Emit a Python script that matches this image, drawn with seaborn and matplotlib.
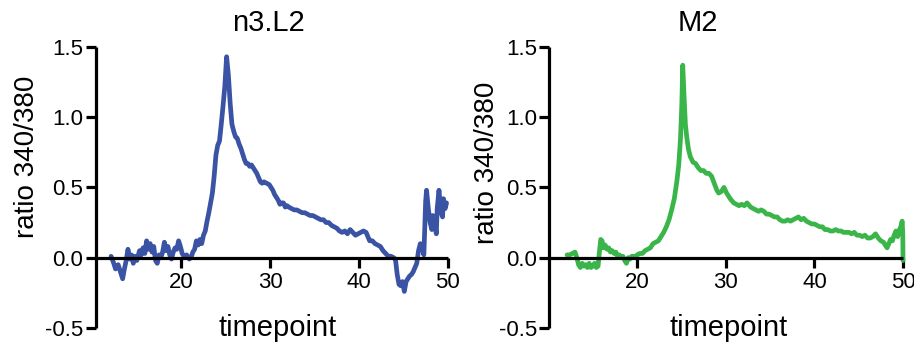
import matplotlib
matplotlib.use("Agg")
import matplotlib.pyplot as plt
import seaborn as sns
import pandas as pd

# n3.L2 trace (ratio 340/380 vs timepoint)
n3_time = [12.1, 12.4, 12.6, 12.9, 13.2, 13.4, 13.6, 13.8, 14.0, 14.2, 14.4, 14.6, 14.8, 15.0,
           15.3, 15.5, 15.7, 15.9, 16.1, 16.3, 16.5, 16.7, 16.9, 17.1, 17.3, 17.5, 17.7, 17.9,
           18.1, 18.3, 18.5, 18.7, 18.9, 19.1, 19.3, 19.5, 19.7, 19.9, 20.1, 20.3, 20.6, 20.9,
           21.1, 21.3, 21.5, 21.7, 21.9, 22.1, 22.3, 22.5, 22.7, 22.9, 23.1, 23.3, 23.5, 23.7,
           23.9, 24.1, 24.3, 24.5, 24.7, 24.9, 25.1, 25.3, 25.5, 25.7, 25.9, 26.1, 26.3, 26.5,
           26.7, 26.9, 27.1, 27.3, 27.5, 27.7, 27.9, 28.1, 28.3, 28.5, 28.7, 28.9, 29.1, 29.3,
           29.6, 29.9, 30.1, 30.3, 30.5, 30.7, 30.9, 31.1, 31.3, 31.5, 31.7, 31.9, 32.1, 32.4,
           32.7, 33.0, 33.3, 33.6, 33.9, 34.2, 34.5, 34.8, 35.1, 35.4, 35.7, 36.0, 36.3, 36.6,
           36.9, 37.2, 37.5, 37.8, 38.1, 38.4, 38.7, 39.0, 39.3, 39.6, 39.9, 40.2, 40.5, 40.8,
           41.0, 41.2, 41.5, 41.8, 42.1, 42.4, 42.7, 43.0, 43.3, 43.6, 43.9, 44.1, 44.3, 44.5,
           44.7, 44.9, 45.1, 45.3, 45.5, 45.7, 45.9, 46.1, 46.3, 46.5, 46.7, 46.9, 47.1, 47.3,
           47.5, 47.6, 47.8, 48.0, 48.2, 48.3, 48.5, 48.7, 48.8, 49.0, 49.2, 49.4, 49.5, 49.7,
           49.85]
n3_ratio = [0.01, -0.04, -0.08, -0.05, -0.11, -0.15, -0.08, -0.02, 0.06, -0.01, 0.02, -0.04, 0.01, -0.02,
            0.05, 0.02, 0.07, 0.03, 0.12, 0.06, 0.10, 0.04, 0.08, -0.02, -0.04, 0.02, 0.00, 0.04,
            0.11, 0.05, 0.08, 0.02, -0.01, 0.04, 0.07, 0.06, 0.12, 0.08, 0.03, 0.01, 0.02, -0.01,
            0.00, 0.04, 0.06, 0.12, 0.09, 0.13, 0.10, 0.16, 0.19, 0.26, 0.32, 0.39, 0.46, 0.58,
            0.73, 0.80, 0.83, 0.95, 1.08, 1.22, 1.43, 1.30, 1.10, 0.95, 0.90, 0.86, 0.85, 0.81,
            0.78, 0.74, 0.70, 0.67, 0.67, 0.65, 0.66, 0.64, 0.62, 0.60, 0.57, 0.54, 0.53, 0.54,
            0.53, 0.52, 0.50, 0.48, 0.45, 0.43, 0.41, 0.38, 0.39, 0.39, 0.36, 0.37, 0.36, 0.35,
            0.34, 0.34, 0.33, 0.32, 0.32, 0.31, 0.30, 0.30, 0.29, 0.28, 0.27, 0.27, 0.25, 0.25,
            0.23, 0.22, 0.21, 0.19, 0.18, 0.19, 0.17, 0.20, 0.18, 0.16, 0.17, 0.18, 0.19, 0.18,
            0.15, 0.12, 0.12, 0.10, 0.09, 0.08, 0.05, 0.03, 0.01, 0.01, 0.00, -0.01, -0.12, -0.19,
            -0.20, -0.17, -0.24, -0.17, -0.15, -0.13, -0.12, -0.10, -0.07, -0.04, 0.05, 0.10, 0.07, 0.02,
            0.40, 0.48, 0.35, 0.25, 0.20, 0.30, 0.25, 0.17, 0.35, 0.48, 0.33, 0.29, 0.42, 0.35,
            0.39]

# M2 trace (ratio 340/380 vs timepoint)
m2_time = [12.1, 12.4, 12.7, 13.0, 13.2, 13.4, 13.6, 13.8, 14.0, 14.2, 14.4, 14.6, 14.8, 15.0,
           15.2, 15.4, 15.6, 15.75, 15.9, 16.05, 16.2, 16.4, 16.6, 16.8, 17.0, 17.2, 17.4, 17.6,
           17.8, 18.0, 18.2, 18.4, 18.6, 18.8, 19.0, 19.2, 19.4, 19.6, 19.8, 20.0, 20.3, 20.6,
           20.9, 21.2, 21.5, 21.8, 22.1, 22.4, 22.7, 23.0, 23.3, 23.6, 23.9, 24.2, 24.5, 24.7,
           24.9, 25.05, 25.15, 25.3, 25.45, 25.6, 25.8, 26.0, 26.3, 26.6, 26.9, 27.2, 27.5, 27.8,
           28.1, 28.4, 28.7, 29.0, 29.2, 29.5, 29.8, 30.1, 30.5, 30.9, 31.2, 31.5, 31.8, 32.1,
           32.4, 32.8, 33.1, 33.4, 33.7, 34.0, 34.3, 34.6, 34.9, 35.2, 35.5, 35.8, 36.1, 36.4,
           36.7, 37.0, 37.3, 37.6, 37.9, 38.2, 38.5, 38.8, 39.1, 39.4, 39.7, 40.0, 40.3, 40.6,
           40.9, 41.2, 41.5, 41.8, 42.1, 42.4, 42.7, 43.0, 43.3, 43.6, 43.9, 44.2, 44.5, 44.8,
           45.1, 45.4, 45.7, 46.0, 46.3, 46.6, 46.9, 47.2, 47.5, 47.8, 48.0, 48.2, 48.4, 48.6,
           48.8, 49.0, 49.2, 49.4, 49.6, 49.75, 49.9, 49.97, 50.0]
m2_ratio = [0.02, 0.02, 0.03, 0.04, 0.00, -0.05, -0.07, -0.04, -0.06, -0.05, -0.07, -0.04, -0.07, -0.06,
            -0.04, -0.07, -0.06, 0.04, 0.13, 0.12, 0.07, 0.09, 0.06, 0.07, 0.04, 0.05, 0.03, 0.04,
            0.01, 0.02, 0.00, 0.01, -0.02, -0.04, 0.00, -0.01, 0.01, 0.01, 0.00, 0.02, 0.03, 0.03,
            0.05, 0.06, 0.07, 0.10, 0.11, 0.12, 0.15, 0.18, 0.22, 0.27, 0.34, 0.42, 0.55, 0.66,
            0.85, 1.10, 1.37, 1.15, 0.95, 0.86, 0.77, 0.72, 0.68, 0.67, 0.64, 0.62, 0.62, 0.60,
            0.60, 0.58, 0.53, 0.48, 0.46, 0.47, 0.50, 0.46, 0.42, 0.39, 0.38, 0.37, 0.38, 0.37,
            0.39, 0.36, 0.35, 0.34, 0.33, 0.34, 0.33, 0.31, 0.31, 0.30, 0.29, 0.29, 0.27, 0.26,
            0.26, 0.27, 0.26, 0.27, 0.28, 0.29, 0.27, 0.28, 0.26, 0.25, 0.24, 0.24, 0.23, 0.22,
            0.22, 0.20, 0.20, 0.19, 0.19, 0.20, 0.19, 0.19, 0.18, 0.18, 0.18, 0.17, 0.18, 0.16,
            0.16, 0.15, 0.16, 0.14, 0.14, 0.15, 0.17, 0.14, 0.12, 0.11, 0.09, 0.07, 0.10, 0.13,
            0.12, 0.16, 0.19, 0.15, 0.20, 0.22, 0.26, 0.18, -0.02]

panel_titles = ["n3.L2", "M2"]
x_ticks = [20, 30, 40, 50]
y_ticks = [-0.5, 0.0, 0.5, 1.0, 1.5]
y_tick_labels = ["-0.5", "0.0", "0.5", "1.0", "1.5"]
x_label = "timepoint"
y_label = "ratio 340/380"

sns.set_style("ticks")
plt.rcParams["font.family"] = ["Liberation Sans", "DejaVu Sans"]
plt.rcParams["text.color"] = "black"
plt.rcParams["axes.labelcolor"] = "black"
plt.rcParams["xtick.color"] = "black"
plt.rcParams["ytick.color"] = "black"

fig = plt.figure(figsize=(9.14, 3.5), dpi=100)
ax_left = fig.add_axes([0.105, 0.063, 0.385, 0.803])
ax_right = fig.add_axes([0.601, 0.063, 0.387, 0.803])

panels = [
    (ax_left, n3_time, n3_ratio, "#3A53A4", 10.4, 0.489, -0.196, 0.61, 0.517),
    (ax_right, m2_time, m2_ratio, "#3AB54A", 10.1, 0.42, -0.175, 0.587, 0.508),
]

for (ax, t, r, color, xmin, title_x, ylab_x, ylab_y, xlab_x), title in zip(panels, panel_titles):
    df = pd.DataFrame({"timepoint": t, "ratio": r})
    sns.lineplot(data=df, x="timepoint", y="ratio", ax=ax, color=color,
                 linewidth=3.4, estimator=None, sort=False, clip_on=False)
    ax.set_xlim(xmin, 50)
    ax.set_ylim(-0.5, 1.5)
    ax.set_xticks(x_ticks)
    ax.set_yticks(y_ticks)
    ax.set_yticklabels(y_tick_labels)
    for side in ("top", "right"):
        ax.spines[side].set_visible(False)
    ax.spines["bottom"].set_position(("data", 0))
    for side in ("left", "bottom"):
        ax.spines[side].set_linewidth(2.3)
        ax.spines[side].set_color("black")
        ax.spines[side].set_capstyle("butt")
    ax.tick_params(axis="both", direction="out", length=7, width=2.3,
                   color="black", labelcolor="black", labelsize=16, pad=2)
    ax.tick_params(axis="x", pad=3)
    ax.set_xlabel(x_label, fontsize=21, color="black")
    ax.set_ylabel(y_label, fontsize=20, color="black")
    ax.xaxis.set_label_coords(xlab_x, 0.0)
    ax.xaxis.label.set_va("center")
    ax.yaxis.set_label_coords(ylab_x, ylab_y)
    ax.yaxis.label.set_va("center")
    ax.text(title_x, 1.085, title, transform=ax.transAxes, ha="center", va="center",
            fontsize=21, color="black")
    ax.patch.set_alpha(0)

fig.savefig("out.png", dpi=100)
